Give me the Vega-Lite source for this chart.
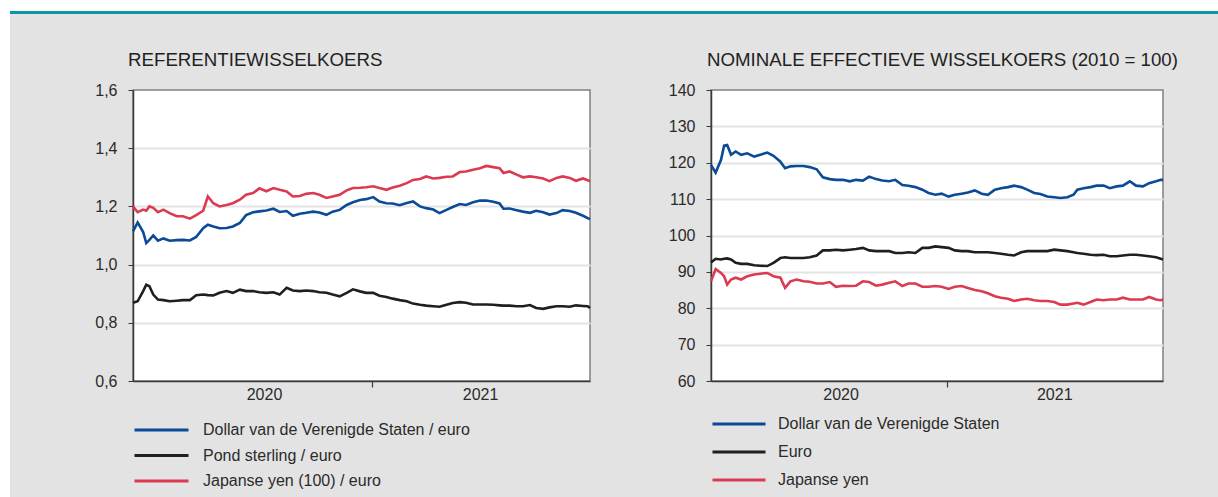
{
  "$schema": "https://vega.github.io/schema/vega-lite/v6.json",
  "background": "#e3e3e3",
  "padding": 0,
  "spacing": 0,
  "config": {
    "font": "Liberation Sans",
    "view": {"stroke": null},
    "axis": {"labelFont": "Liberation Sans", "labelFontSize": 16, "labelColor": "#2b2b2b", "domainColor": "#3a3a3a", "tickColor": "#3a3a3a", "title": null},
    "legend": {"labelFont": "Liberation Sans", "labelFontSize": 16, "labelColor": "#2b2b2b", "labelLimit": 0},
    "title": {"font": "Liberation Sans", "fontSize": 18.7, "fontWeight": "normal", "color": "#222222", "anchor": "start", "frame": "group"}
  },
  "datasets": {
    "fx": [
      {"d": "2020-03-01", "usd": 1.114, "gbp": 0.869, "jpy": 1.200, "nusd": 119.4, "neur": 92.6, "njpy": 87.4},
      {"d": "2020-03-07", "usd": 1.145, "gbp": 0.874, "jpy": 1.180, "nusd": 117.3, "neur": 93.6, "njpy": 90.8},
      {"d": "2020-03-14", "usd": 1.112, "gbp": 0.909, "jpy": 1.189, "nusd": 120.8, "neur": 93.4, "njpy": 89.7},
      {"d": "2020-03-18", "usd": 1.074, "gbp": 0.931, "jpy": 1.185, "nusd": 124.7, "neur": 93.6, "njpy": 88.8},
      {"d": "2020-03-22", "usd": 1.085, "gbp": 0.926, "jpy": 1.200, "nusd": 124.9, "neur": 93.7, "njpy": 86.5},
      {"d": "2020-03-27", "usd": 1.100, "gbp": 0.897, "jpy": 1.195, "nusd": 122.2, "neur": 93.4, "njpy": 87.9},
      {"d": "2020-04-02", "usd": 1.082, "gbp": 0.880, "jpy": 1.180, "nusd": 123.1, "neur": 92.5, "njpy": 88.4},
      {"d": "2020-04-09", "usd": 1.090, "gbp": 0.878, "jpy": 1.189, "nusd": 122.2, "neur": 92.2, "njpy": 87.9},
      {"d": "2020-04-17", "usd": 1.082, "gbp": 0.874, "jpy": 1.177, "nusd": 122.6, "neur": 92.2, "njpy": 88.8},
      {"d": "2020-04-26", "usd": 1.084, "gbp": 0.876, "jpy": 1.166, "nusd": 121.7, "neur": 91.8, "njpy": 89.3},
      {"d": "2020-05-04", "usd": 1.085, "gbp": 0.878, "jpy": 1.166, "nusd": 122.2, "neur": 91.7, "njpy": 89.5},
      {"d": "2020-05-13", "usd": 1.083, "gbp": 0.878, "jpy": 1.158, "nusd": 122.8, "neur": 91.6, "njpy": 89.7},
      {"d": "2020-05-21", "usd": 1.095, "gbp": 0.895, "jpy": 1.170, "nusd": 121.9, "neur": 92.5, "njpy": 88.8},
      {"d": "2020-05-30", "usd": 1.125, "gbp": 0.897, "jpy": 1.185, "nusd": 120.3, "neur": 93.8, "njpy": 88.4},
      {"d": "2020-06-05", "usd": 1.137, "gbp": 0.895, "jpy": 1.234, "nusd": 118.5, "neur": 94.0, "njpy": 85.6},
      {"d": "2020-06-12", "usd": 1.131, "gbp": 0.894, "jpy": 1.211, "nusd": 119.0, "neur": 93.8, "njpy": 87.4},
      {"d": "2020-06-20", "usd": 1.125, "gbp": 0.903, "jpy": 1.200, "nusd": 119.1, "neur": 93.8, "njpy": 87.9},
      {"d": "2020-06-29", "usd": 1.126, "gbp": 0.909, "jpy": 1.205, "nusd": 119.1, "neur": 93.8, "njpy": 87.4},
      {"d": "2020-07-07", "usd": 1.131, "gbp": 0.903, "jpy": 1.211, "nusd": 118.8, "neur": 94.0, "njpy": 87.3},
      {"d": "2020-07-16", "usd": 1.143, "gbp": 0.914, "jpy": 1.223, "nusd": 118.2, "neur": 94.5, "njpy": 86.8},
      {"d": "2020-07-24", "usd": 1.170, "gbp": 0.909, "jpy": 1.240, "nusd": 116.0, "neur": 95.9, "njpy": 86.8},
      {"d": "2020-08-02", "usd": 1.180, "gbp": 0.909, "jpy": 1.246, "nusd": 115.5, "neur": 95.9, "njpy": 87.2},
      {"d": "2020-08-10", "usd": 1.183, "gbp": 0.905, "jpy": 1.262, "nusd": 115.3, "neur": 96.1, "njpy": 85.9},
      {"d": "2020-08-19", "usd": 1.186, "gbp": 0.903, "jpy": 1.252, "nusd": 115.3, "neur": 95.9, "njpy": 86.2},
      {"d": "2020-08-28", "usd": 1.192, "gbp": 0.905, "jpy": 1.263, "nusd": 114.9, "neur": 96.1, "njpy": 86.1},
      {"d": "2020-09-05", "usd": 1.181, "gbp": 0.897, "jpy": 1.257, "nusd": 115.3, "neur": 96.3, "njpy": 86.2},
      {"d": "2020-09-14", "usd": 1.184, "gbp": 0.920, "jpy": 1.251, "nusd": 115.1, "neur": 96.6, "njpy": 87.4},
      {"d": "2020-09-22", "usd": 1.168, "gbp": 0.911, "jpy": 1.234, "nusd": 116.2, "neur": 95.9, "njpy": 87.2},
      {"d": "2020-10-01", "usd": 1.175, "gbp": 0.909, "jpy": 1.236, "nusd": 115.5, "neur": 95.7, "njpy": 86.2},
      {"d": "2020-10-09", "usd": 1.178, "gbp": 0.911, "jpy": 1.243, "nusd": 115.1, "neur": 95.7, "njpy": 86.5},
      {"d": "2020-10-18", "usd": 1.182, "gbp": 0.909, "jpy": 1.246, "nusd": 114.9, "neur": 95.7, "njpy": 87.0},
      {"d": "2020-10-26", "usd": 1.179, "gbp": 0.905, "jpy": 1.240, "nusd": 115.3, "neur": 95.2, "njpy": 87.4},
      {"d": "2020-11-04", "usd": 1.171, "gbp": 0.903, "jpy": 1.229, "nusd": 113.9, "neur": 95.2, "njpy": 86.1},
      {"d": "2020-11-12", "usd": 1.182, "gbp": 0.897, "jpy": 1.234, "nusd": 113.7, "neur": 95.4, "njpy": 86.8},
      {"d": "2020-11-21", "usd": 1.188, "gbp": 0.891, "jpy": 1.240, "nusd": 113.3, "neur": 95.2, "njpy": 86.8},
      {"d": "2020-11-30", "usd": 1.205, "gbp": 0.903, "jpy": 1.255, "nusd": 112.6, "neur": 96.6, "njpy": 85.9},
      {"d": "2020-12-08", "usd": 1.214, "gbp": 0.915, "jpy": 1.263, "nusd": 111.7, "neur": 96.6, "njpy": 85.9},
      {"d": "2020-12-17", "usd": 1.222, "gbp": 0.908, "jpy": 1.264, "nusd": 111.2, "neur": 97.0, "njpy": 86.1},
      {"d": "2020-12-25", "usd": 1.225, "gbp": 0.903, "jpy": 1.266, "nusd": 111.5, "neur": 96.8, "njpy": 85.9},
      {"d": "2021-01-03", "usd": 1.232, "gbp": 0.903, "jpy": 1.269, "nusd": 110.7, "neur": 96.6, "njpy": 85.3},
      {"d": "2021-01-11", "usd": 1.217, "gbp": 0.893, "jpy": 1.263, "nusd": 111.2, "neur": 95.9, "njpy": 85.9},
      {"d": "2021-01-20", "usd": 1.211, "gbp": 0.889, "jpy": 1.257, "nusd": 111.5, "neur": 95.7, "njpy": 86.1},
      {"d": "2021-01-28", "usd": 1.210, "gbp": 0.883, "jpy": 1.265, "nusd": 111.8, "neur": 95.7, "njpy": 85.6},
      {"d": "2021-02-06", "usd": 1.204, "gbp": 0.878, "jpy": 1.271, "nusd": 112.4, "neur": 95.4, "njpy": 85.0},
      {"d": "2021-02-15", "usd": 1.212, "gbp": 0.874, "jpy": 1.280, "nusd": 111.5, "neur": 95.4, "njpy": 84.7},
      {"d": "2021-02-23", "usd": 1.217, "gbp": 0.866, "jpy": 1.291, "nusd": 111.2, "neur": 95.4, "njpy": 84.1},
      {"d": "2021-03-04", "usd": 1.200, "gbp": 0.862, "jpy": 1.294, "nusd": 112.6, "neur": 95.2, "njpy": 83.3},
      {"d": "2021-03-12", "usd": 1.194, "gbp": 0.859, "jpy": 1.303, "nusd": 113.0, "neur": 95.0, "njpy": 82.9},
      {"d": "2021-03-21", "usd": 1.189, "gbp": 0.857, "jpy": 1.296, "nusd": 113.3, "neur": 94.7, "njpy": 82.6},
      {"d": "2021-03-29", "usd": 1.177, "gbp": 0.855, "jpy": 1.298, "nusd": 113.7, "neur": 94.5, "njpy": 82.0},
      {"d": "2021-04-07", "usd": 1.188, "gbp": 0.862, "jpy": 1.302, "nusd": 113.3, "neur": 95.4, "njpy": 82.4},
      {"d": "2021-04-15", "usd": 1.198, "gbp": 0.868, "jpy": 1.303, "nusd": 112.6, "neur": 95.7, "njpy": 82.6},
      {"d": "2021-04-24", "usd": 1.208, "gbp": 0.871, "jpy": 1.318, "nusd": 111.7, "neur": 95.7, "njpy": 82.2},
      {"d": "2021-05-02", "usd": 1.205, "gbp": 0.869, "jpy": 1.320, "nusd": 111.4, "neur": 95.7, "njpy": 82.0},
      {"d": "2021-05-11", "usd": 1.214, "gbp": 0.863, "jpy": 1.326, "nusd": 110.7, "neur": 95.7, "njpy": 82.0},
      {"d": "2021-05-20", "usd": 1.220, "gbp": 0.863, "jpy": 1.331, "nusd": 110.5, "neur": 96.1, "njpy": 81.7},
      {"d": "2021-05-28", "usd": 1.220, "gbp": 0.863, "jpy": 1.339, "nusd": 110.3, "neur": 95.9, "njpy": 81.0},
      {"d": "2021-06-06", "usd": 1.216, "gbp": 0.862, "jpy": 1.335, "nusd": 110.5, "neur": 95.7, "njpy": 81.0},
      {"d": "2021-06-14", "usd": 1.210, "gbp": 0.860, "jpy": 1.331, "nusd": 111.2, "neur": 95.4, "njpy": 81.3},
      {"d": "2021-06-19", "usd": 1.192, "gbp": 0.859, "jpy": 1.315, "nusd": 112.6, "neur": 95.2, "njpy": 81.5},
      {"d": "2021-06-27", "usd": 1.193, "gbp": 0.859, "jpy": 1.320, "nusd": 113.0, "neur": 95.0, "njpy": 81.0},
      {"d": "2021-07-06", "usd": 1.187, "gbp": 0.857, "jpy": 1.309, "nusd": 113.3, "neur": 94.7, "njpy": 81.7},
      {"d": "2021-07-14", "usd": 1.182, "gbp": 0.857, "jpy": 1.300, "nusd": 113.7, "neur": 94.6, "njpy": 82.4},
      {"d": "2021-07-23", "usd": 1.178, "gbp": 0.861, "jpy": 1.303, "nusd": 113.7, "neur": 94.7, "njpy": 82.2},
      {"d": "2021-07-31", "usd": 1.185, "gbp": 0.851, "jpy": 1.300, "nusd": 113.0, "neur": 94.3, "njpy": 82.4},
      {"d": "2021-08-09", "usd": 1.180, "gbp": 0.848, "jpy": 1.296, "nusd": 113.5, "neur": 94.3, "njpy": 82.4},
      {"d": "2021-08-17", "usd": 1.172, "gbp": 0.853, "jpy": 1.287, "nusd": 113.7, "neur": 94.5, "njpy": 82.9},
      {"d": "2021-08-26", "usd": 1.177, "gbp": 0.857, "jpy": 1.298, "nusd": 114.9, "neur": 94.7, "njpy": 82.4},
      {"d": "2021-09-03", "usd": 1.187, "gbp": 0.857, "jpy": 1.303, "nusd": 113.7, "neur": 94.7, "njpy": 82.4},
      {"d": "2021-09-12", "usd": 1.184, "gbp": 0.855, "jpy": 1.298, "nusd": 113.5, "neur": 94.5, "njpy": 82.4},
      {"d": "2021-09-20", "usd": 1.178, "gbp": 0.860, "jpy": 1.288, "nusd": 114.4, "neur": 94.3, "njpy": 83.1},
      {"d": "2021-09-29", "usd": 1.168, "gbp": 0.858, "jpy": 1.296, "nusd": 114.9, "neur": 94.0, "njpy": 82.4},
      {"d": "2021-10-05", "usd": 1.160, "gbp": 0.857, "jpy": 1.290, "nusd": 115.3, "neur": 93.6, "njpy": 82.2},
      {"d": "2021-10-08", "usd": 1.156, "gbp": 0.851, "jpy": 1.286, "nusd": 115.3, "neur": 93.4, "njpy": 82.4}
    ]
  },
  "vconcat": [
    {"width": 1218, "height": 11, "view": {"fill": "#ffffff", "stroke": null}, "data": {"values": [{}]}, "mark": {"type": "point", "opacity": 0, "size": 0}},
    {
      "spacing": 0,
      "hconcat": [
        {"width": 10, "height": 486, "view": {"fill": "#ffffff", "stroke": null}, "data": {"values": [{}]}, "mark": {"type": "point", "opacity": 0, "size": 0}},
        {
          "spacing": 36,
          "vconcat": [
            {"width": 1208, "height": 3, "view": {"fill": "#0b95a5", "stroke": null}, "data": {"values": [{}]}, "mark": {"type": "point", "opacity": 0, "size": 0}},
            {
              "spacing": 71,
              "resolve": {"scale": {"x": "independent", "y": "independent", "color": "independent"}, "legend": {"color": "independent"}},
              "hconcat": [
                {"width": 13, "height": 1, "view": {"stroke": null}, "data": {"values": [{}]}, "mark": {"type": "point", "opacity": 0, "size": 0}},
                {
                  "width": 457,
                  "height": 291,
                  "view": {"fill": "#ffffff", "stroke": "#808080", "strokeWidth": 1.5},
                  "title": {"text": "REFERENTIEWISSELKOERS", "dx": -5, "offset": 12},
                  "data": {"name": "fx"},
                  "transform": [{"fold": ["usd", "gbp", "jpy"], "as": ["k", "v"]}],
                  "mark": {"type": "line", "strokeWidth": 2.6},
                  "encoding": {
                    "x": {
                      "field": "d", "type": "temporal",
                      "scale": {"type": "utc", "domain": [{"year": 2020, "month": 3, "date": 1, "utc": true}, {"year": 2021, "month": 10, "date": 8, "utc": true}]},
                      "axis": {
                        "values": [{"year": 2020, "month": 8, "date": 16, "utc": true}, {"year": 2021, "month": 1, "date": 1, "utc": true}, {"year": 2021, "month": 5, "date": 20, "utc": true}],
                        "labelExpr": "utcmonth(datum.value) == 0 ? '' : utcFormat(datum.value, '%Y')",
                        "tickOpacity": {"condition": {"test": "utcmonth(datum.value) == 0", "value": 1}, "value": 0},
                        "tickSize": 6, "tickWidth": 1.2, "grid": false, "labelPadding": -1, "labelFlush": false, "labelOverlap": false, "domainWidth": 1.5
                      }
                    },
                    "y": {
                      "field": "v", "type": "quantitative",
                      "scale": {"domain": [0.6, 1.6], "nice": false, "zero": false},
                      "axis": {
                        "values": [0.6, 0.8, 1.0, 1.2, 1.4, 1.6],
                        "labelExpr": "replace(format(datum.value, '.1f'), '.', ',')",
                        "tickSize": 5, "labelPadding": 11, "domainWidth": 1.5,
                        "grid": true, "gridColor": "#e4e4e4", "gridWidth": 2,
                        "gridOpacity": {"condition": {"test": "datum.value > 0.65 && datum.value < 1.55", "value": 1}, "value": 0}
                      }
                    },
                    "color": {
                      "field": "k", "type": "nominal",
                      "scale": {"domain": ["usd", "gbp", "jpy"], "range": ["#0b4a96", "#1f1f1f", "#dc3a50"]},
                      "legend": {
                        "orient": "bottom", "direction": "vertical", "title": null, "padding": 0, "offset": 20,
                        "symbolType": "stroke", "symbolSize": 2916, "symbolStrokeWidth": 3, "labelOffset": 13, "rowPadding": 9.5, "clipHeight": 16,
                        "labelExpr": "datum.label == 'usd' ? 'Dollar van de Verenigde Staten / euro' : datum.label == 'gbp' ? 'Pond sterling / euro' : 'Japanse yen (100) / euro'"
                      }
                    }
                  }
                },
                {
                  "width": 452,
                  "height": 291,
                  "view": {"fill": "#ffffff", "stroke": "#808080", "strokeWidth": 1.5},
                  "title": {"text": "NOMINALE EFFECTIEVE WISSELKOERS (2010 = 100)", "dx": -4, "offset": 12},
                  "data": {"name": "fx"},
                  "transform": [{"fold": ["nusd", "neur", "njpy"], "as": ["k", "v"]}],
                  "mark": {"type": "line", "strokeWidth": 2.6},
                  "encoding": {
                    "x": {
                      "field": "d", "type": "temporal",
                      "scale": {"type": "utc", "domain": [{"year": 2020, "month": 3, "date": 1, "utc": true}, {"year": 2021, "month": 10, "date": 8, "utc": true}]},
                      "axis": {
                        "values": [{"year": 2020, "month": 8, "date": 16, "utc": true}, {"year": 2021, "month": 1, "date": 1, "utc": true}, {"year": 2021, "month": 5, "date": 20, "utc": true}],
                        "labelExpr": "utcmonth(datum.value) == 0 ? '' : utcFormat(datum.value, '%Y')",
                        "tickOpacity": {"condition": {"test": "utcmonth(datum.value) == 0", "value": 1}, "value": 0},
                        "tickSize": 6, "tickWidth": 1.2, "grid": false, "labelPadding": -1, "labelFlush": false, "labelOverlap": false, "domainWidth": 1.5
                      }
                    },
                    "y": {
                      "field": "v", "type": "quantitative",
                      "scale": {"domain": [60, 140], "nice": false, "zero": false},
                      "axis": {
                        "values": [60, 70, 80, 90, 100, 110, 120, 130, 140],
                        "tickSize": 5, "labelPadding": 11, "domainWidth": 1.5,
                        "grid": true, "gridColor": "#e4e4e4", "gridWidth": 2,
                        "gridOpacity": {"condition": {"test": "datum.value > 61 && datum.value < 139", "value": 1}, "value": 0}
                      }
                    },
                    "color": {
                      "field": "k", "type": "nominal",
                      "scale": {"domain": ["nusd", "neur", "njpy"], "range": ["#0b4a96", "#1f1f1f", "#dc3a50"]},
                      "legend": {
                        "orient": "bottom", "direction": "vertical", "title": null, "padding": 0, "offset": 14,
                        "symbolType": "stroke", "symbolSize": 2809, "symbolStrokeWidth": 3, "labelOffset": 11, "rowPadding": 12, "clipHeight": 16,
                        "labelExpr": "datum.label == 'nusd' ? 'Dollar van de Verenigde Staten' : datum.label == 'neur' ? 'Euro' : 'Japanse yen'"
                      }
                    }
                  }
                }
              ]
            }
          ]
        }
      ]
    }
  ]
}
